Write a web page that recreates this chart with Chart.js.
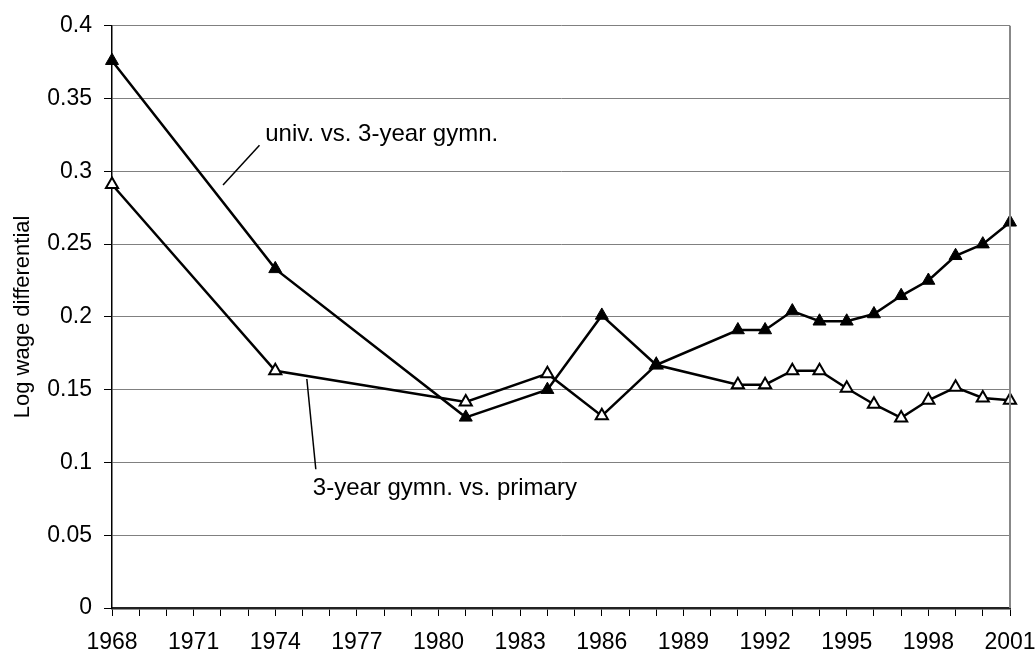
<!DOCTYPE html>
<html>
<head>
<meta charset="utf-8">
<script src="https://cdn.jsdelivr.net/npm/chart.js@4"></script>
<style>
  html, body { margin: 0; padding: 0; background: #fff; }
  #wrap { width: 1036px; height: 652px; }
</style>
</head>
<body>
<div id="wrap"><canvas id="wageChart" width="1036" height="652"></canvas></div>
<script>
// years with observations
const years = [1968, 1974, 1981, 1984, 1986, 1988, 1991, 1992, 1993, 1994, 1995, 1996, 1997, 1998, 1999, 2000, 2001];
// univ. vs. 3-year gymn. (filled triangles)
const univVsGymn = [0.376, 0.233, 0.131, 0.150, 0.201, 0.167, 0.191, 0.191, 0.204, 0.197, 0.197, 0.202, 0.2145, 0.225, 0.242, 0.250, 0.265];
// 3-year gymn. vs. primary (open triangles)
const gymnVsPrimary = [0.291, 0.163, 0.1415, 0.161, 0.132, 0.167, 0.1534, 0.1534, 0.163, 0.163, 0.151, 0.140, 0.1306, 0.1427, 0.1516, 0.1443, 0.1427];

const yTitle = 'Log wage differential';
const seriesNames = ['univ. vs. 3-year gymn.', '3-year gymn. vs. primary'];

const FONT = "'Liberation Sans', Arial, sans-serif";

// callout labels, placed in data units
const callouts = [
    { text: seriesNames[0], at: [1973.63, 0.321], from: [1973.42, 0.318], to: [1972.08, 0.2906] },
    { text: seriesNames[1], at: [1975.38, 0.0777], from: [1975.16, 0.1573], to: [1975.49, 0.0953] }
];

const toPoints = values => years.map((yr, i) => ({ x: yr, y: values[i] }));

const calloutPlugin = {
    id: 'callouts',
    afterDraw(chart) {
        const { ctx, chartArea, scales } = chart;
        const xs = scales.x, ys = scales.y;
        ctx.save();
        // right border of the plot
        ctx.strokeStyle = '#888';
        ctx.lineWidth = 2;
        ctx.beginPath();
        ctx.moveTo(chartArea.right, chartArea.top);
        ctx.lineTo(chartArea.right, chartArea.bottom);
        ctx.stroke();

        ctx.strokeStyle = '#000';
        ctx.lineWidth = 1.5;
        ctx.fillStyle = '#000';
        ctx.font = '24px ' + FONT;
        ctx.textBaseline = 'alphabetic';
        ctx.textAlign = 'left';
        callouts.forEach(c => {
            ctx.beginPath();
            ctx.moveTo(xs.getPixelForValue(c.from[0]), ys.getPixelForValue(c.from[1]));
            ctx.lineTo(xs.getPixelForValue(c.to[0]), ys.getPixelForValue(c.to[1]));
            ctx.stroke();
            ctx.fillText(c.text, xs.getPixelForValue(c.at[0]), ys.getPixelForValue(c.at[1]));
        });
        ctx.restore();
    }
};

const ctx = document.getElementById('wageChart').getContext('2d');
const wageChart = new Chart(ctx, {
    type: 'line',
    data: {
        datasets: [{
            label: seriesNames[0],
            data: toPoints(univVsGymn),
            borderColor: '#000',
            borderWidth: 2.5,
            pointStyle: 'triangle',
            pointRadius: 7.5,
            pointBackgroundColor: '#000',
            pointBorderColor: '#000',
            pointBorderWidth: 1,
            tension: 0,
            clip: false
        }, {
            label: seriesNames[1],
            data: toPoints(gymnVsPrimary),
            borderColor: '#000',
            borderWidth: 2.5,
            pointStyle: 'triangle',
            pointRadius: 7,
            pointBackgroundColor: '#fff',
            pointBorderColor: '#000',
            pointBorderWidth: 2,
            tension: 0,
            clip: false
        }]
    },
    options: {
        responsive: false,
        animation: false,
        devicePixelRatio: 1,
        layout: { padding: { top: 23, right: 0, left: 0, bottom: 0 } },
        plugins: {
            legend: { display: false },
            tooltip: { enabled: false }
        },
        scales: {
            x: {
                type: 'linear',
                min: 1968,
                max: 2001,
                afterFit: scale => {
                    scale.height = 44;
                    scale.paddingRight = 26;
                    scale.paddingLeft = 0;
                },
                grid: {
                    drawOnChartArea: false,
                    drawTicks: true,
                    tickLength: 8,
                    tickColor: '#000',
                    tickWidth: 1
                },
                border: { color: '#222', width: 2.5 },
                ticks: {
                    stepSize: 1,
                    autoSkip: false,
                    maxRotation: 0,
                    padding: 13,
                    color: '#000',
                    font: { family: FONT, size: 23 },
                    callback: v => ((v - 1968) % 3 === 0 ? String(v) : '')
                }
            },
            y: {
                min: 0,
                max: 0.4,
                afterFit: scale => { scale.width = 112; },
                grid: {
                    color: '#808080',
                    lineWidth: 1,
                    tickLength: 8,
                    tickColor: '#000'
                },
                border: { color: '#000', width: 1.5 },
                ticks: {
                    stepSize: 0.05,
                    padding: 12,
                    color: '#000',
                    font: { family: FONT, size: 23 },
                    callback: v => String(+v.toFixed(2))
                },
                title: {
                    display: true,
                    text: yTitle,
                    color: '#000',
                    font: { family: FONT, size: 22 },
                    padding: { top: 10, bottom: 0 }
                }
            }
        }
    },
    plugins: [calloutPlugin]
});
</script>
</body>
</html>
